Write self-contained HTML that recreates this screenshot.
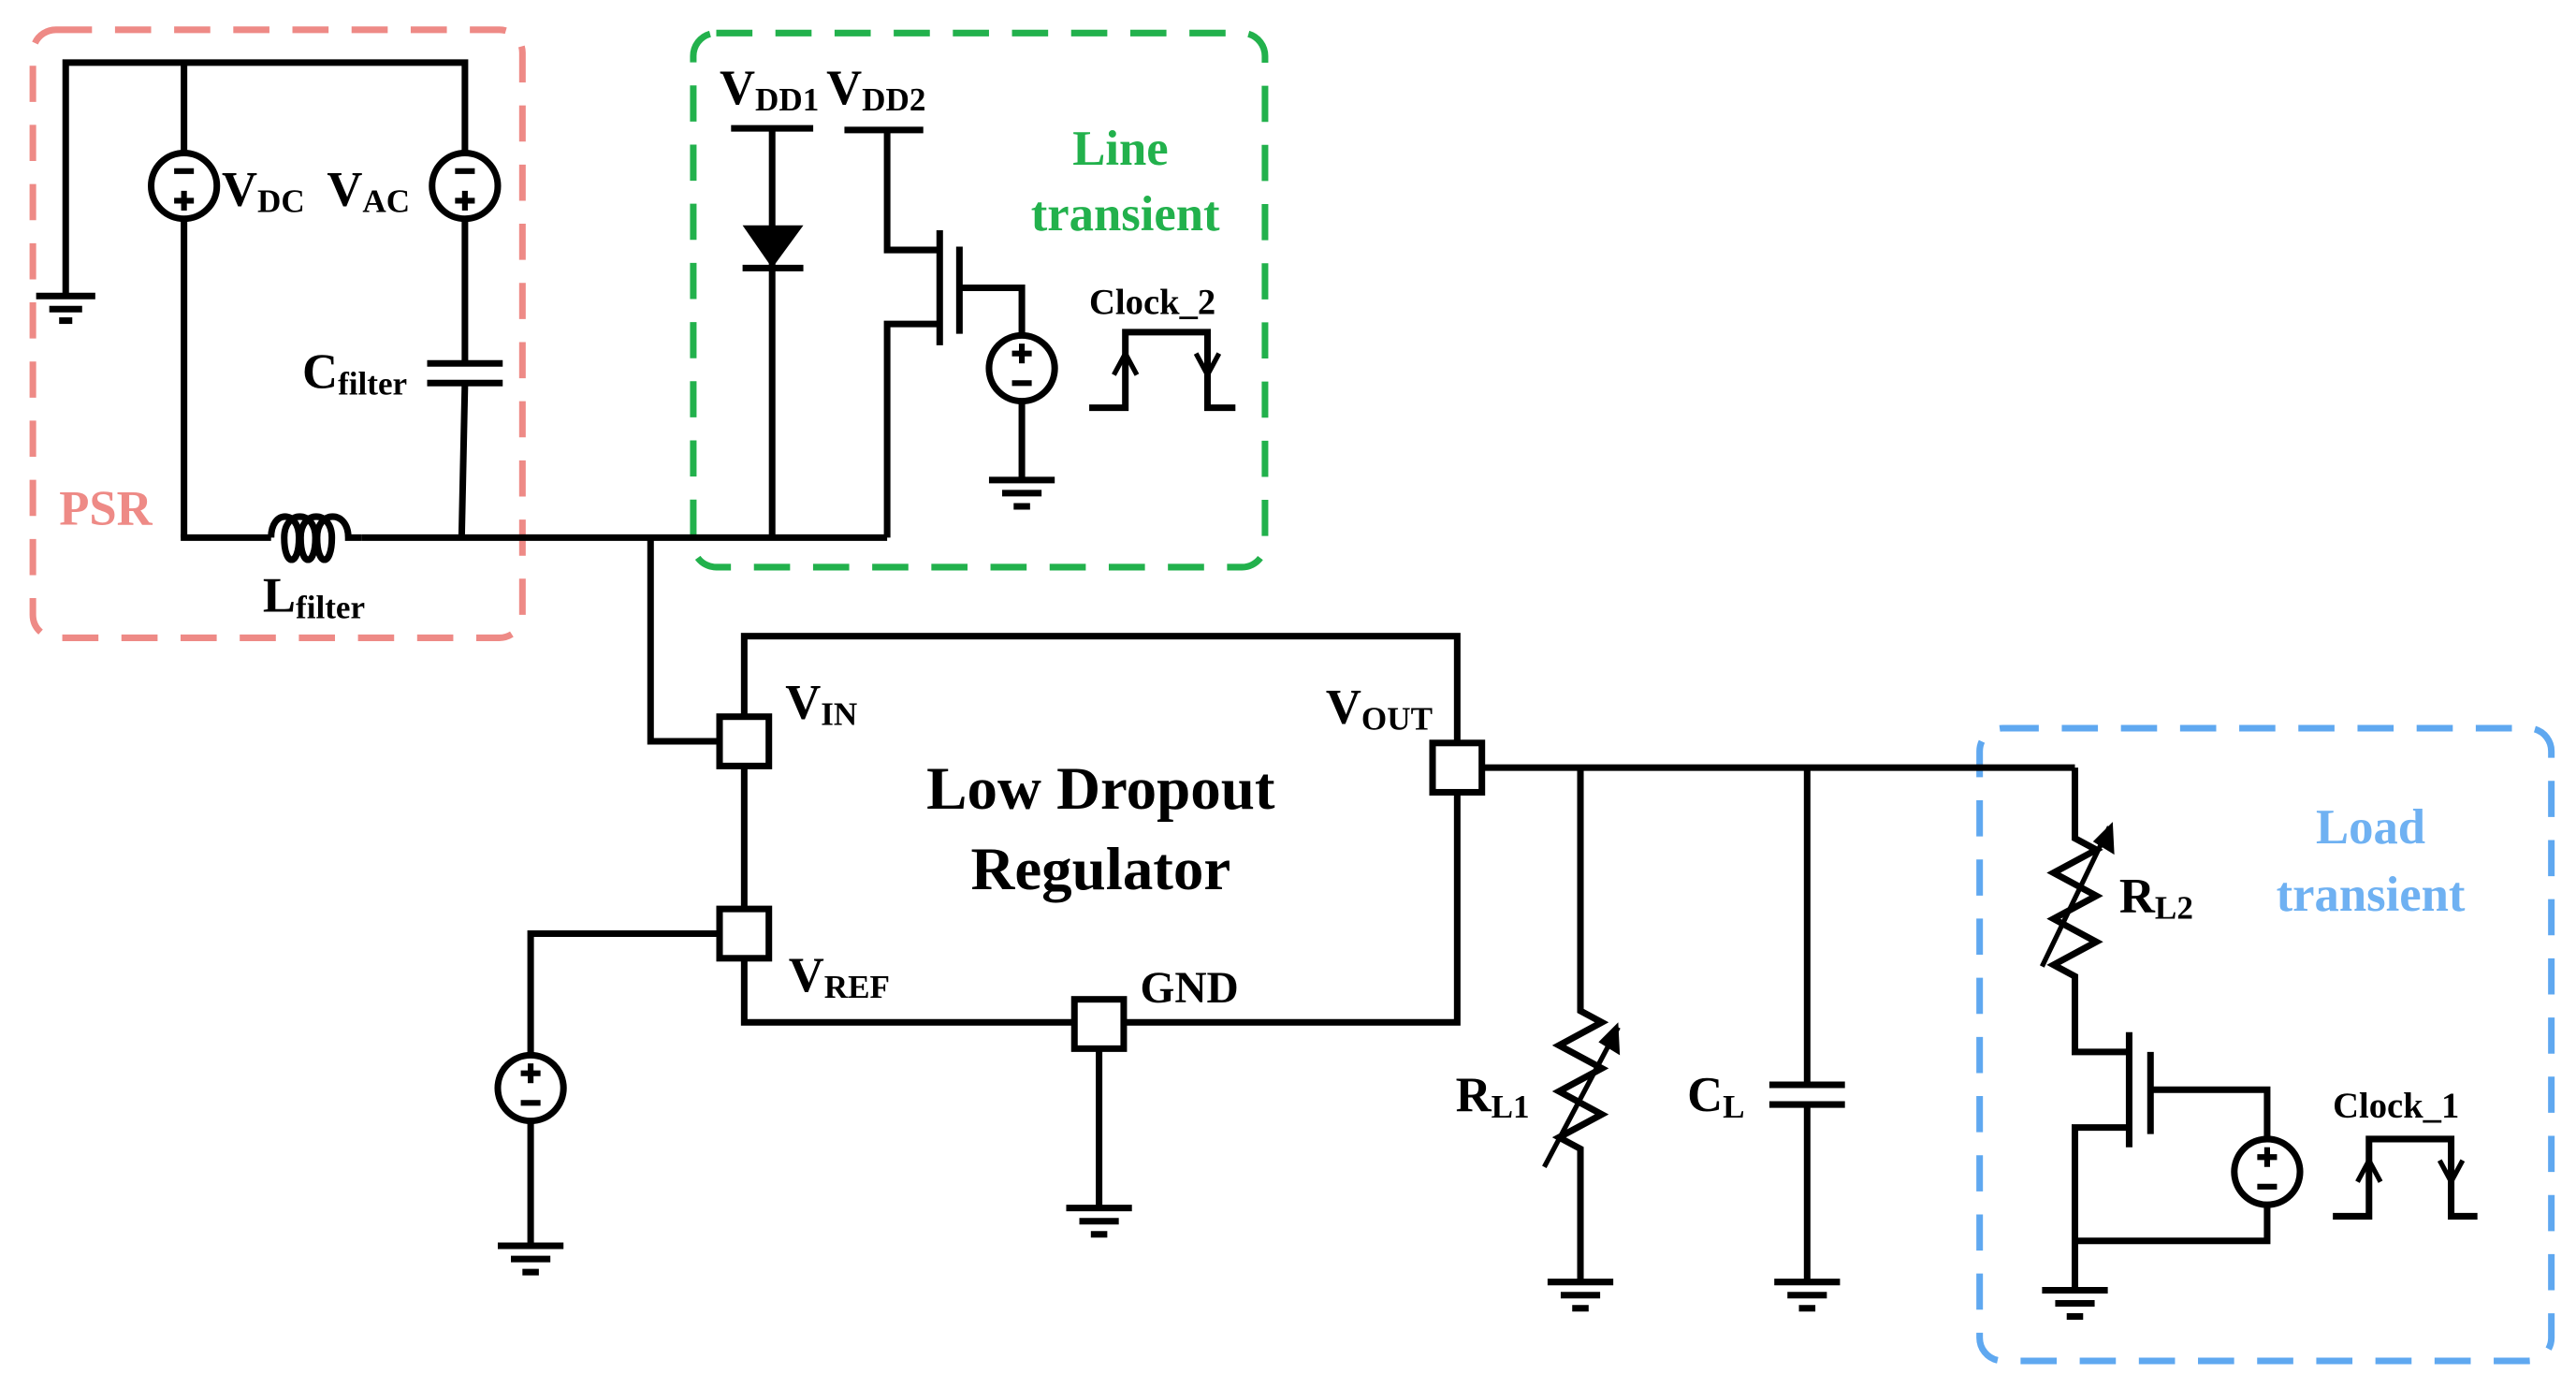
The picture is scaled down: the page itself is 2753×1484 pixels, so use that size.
<!DOCTYPE html>
<html><head><meta charset="utf-8"><style>html,body{margin:0;padding:0;background:#fff}svg{display:block}</style></head><body>
<svg width="2753" height="1484" viewBox="0 0 1568 845" xmlns="http://www.w3.org/2000/svg" font-family="Liberation Serif, serif" font-weight="bold">
<rect width="1568" height="845" fill="#fff"/>
<g fill="none" stroke-width="4" stroke-dasharray="22,14">
<rect x="20" y="18" width="298" height="370" rx="14" stroke="#ee8a86"/>
<rect x="422" y="20" width="348" height="325" rx="14" stroke="#22b14c"/>
<rect x="1205" y="443" width="348" height="385" rx="14" stroke="#5fa8f0"/>
</g>
<g stroke="#000" stroke-width="4" fill="none">
<!-- PSR -->
<polyline points="40,180 40,38 283,38 283,93"/>
<line x1="112" y1="38" x2="112" y2="93"/>
<line x1="112" y1="133" x2="112" y2="327"/>
<line x1="283" y1="133" x2="283" y2="221"/>
<line x1="283" y1="233" x2="281" y2="327"/>
<line x1="260" y1="221" x2="306" y2="221"/>
<line x1="260" y1="233" x2="306" y2="233"/>
<line x1="22" y1="180" x2="58" y2="180"/><line x1="30" y1="188" x2="50" y2="188"/><line x1="36" y1="195" x2="44" y2="195"/>
<circle cx="112" cy="113" r="20"/><circle cx="283" cy="113" r="20"/>
<polyline points="110,327 165,327"/>
<path d="M165,327 C165,310 182,310 182,327 C182,345 173,345 173,327 C173,310 192,310 192,327 C192,345 183,345 183,327 C183,310 202,310 202,327 C202,345 193,345 193,327 C193,310 212,310 212,327 L220,327"/>
<line x1="220" y1="327" x2="540" y2="327"/>
<!-- line transient -->
<line x1="445" y1="78" x2="495" y2="78"/>
<line x1="470" y1="78" x2="470" y2="327"/>
<line x1="452" y1="163" x2="489" y2="163"/>
<line x1="514" y1="79" x2="562" y2="79"/>
<polyline points="540,79 540,152 572,152"/>
<polyline points="572,197 540,197 540,327"/>
<line x1="572" y1="140" x2="572" y2="210"/>
<line x1="584" y1="150" x2="584" y2="203"/>
<polyline points="584,175 622,175 622,204"/>
<circle cx="622" cy="224" r="20"/>
<line x1="622" y1="244" x2="622" y2="292"/>
<line x1="602" y1="292" x2="642" y2="292"/><line x1="610" y1="300" x2="634" y2="300"/><line x1="617" y1="308" x2="627" y2="308"/>
<polyline points="663,248 685,248 685,202 735,202 735,248 752,248"/>
<!-- LDO -->
<polyline points="396,327 396,451 438,451"/>
<rect x="453" y="387" width="434" height="235"/>
<polyline points="438,568 323,568 323,642"/>
<circle cx="323" cy="662" r="20"/>
<line x1="323" y1="682" x2="323" y2="758"/>
<line x1="303" y1="758" x2="343" y2="758"/><line x1="311" y1="766" x2="335" y2="766"/><line x1="318" y1="774" x2="328" y2="774"/>
<line x1="669" y1="638" x2="669" y2="735"/>
<line x1="649" y1="735" x2="689" y2="735"/><line x1="657" y1="743" x2="681" y2="743"/><line x1="664" y1="751" x2="674" y2="751"/>
<line x1="902" y1="467" x2="1263" y2="467"/>
<!-- RL1 -->
<polyline points="962,467 962,615 975,622 949,636 975,650 949,664 975,678 949,692 962,699 962,780"/>
<line x1="942" y1="780" x2="982" y2="780"/><line x1="950" y1="788" x2="974" y2="788"/><line x1="957" y1="796" x2="967" y2="796"/>
<!-- CL -->
<line x1="1100" y1="467" x2="1100" y2="660"/>
<line x1="1077" y1="660" x2="1123" y2="660"/><line x1="1077" y1="672" x2="1123" y2="672"/>
<line x1="1100" y1="672" x2="1100" y2="780"/>
<line x1="1080" y1="780" x2="1120" y2="780"/><line x1="1088" y1="788" x2="1112" y2="788"/><line x1="1095" y1="796" x2="1105" y2="796"/>
<!-- RL2 -->
<polyline points="1263,467 1263,510 1276,517 1250,531 1276,545 1250,559 1276,573 1250,587 1263,594 1263,640 1296,640"/>
<line x1="1296" y1="628" x2="1296" y2="698"/>
<line x1="1309" y1="640" x2="1309" y2="690"/>
<polyline points="1309,663 1380,663 1380,693"/>
<circle cx="1380" cy="713" r="20"/>
<polyline points="1380,733 1380,755 1263,755"/>
<polyline points="1296,686 1263,686 1263,785"/>
<line x1="1243" y1="785" x2="1283" y2="785"/><line x1="1251" y1="793" x2="1275" y2="793"/><line x1="1258" y1="801" x2="1268" y2="801"/>
<polyline points="1420,740 1442,740 1442,693 1492,693 1492,740 1508,740"/>
</g>
<!-- pins -->
<g fill="#fff" stroke="#000" stroke-width="4">
<rect x="438" y="436" width="30" height="30"/>
<rect x="438" y="553" width="30" height="30"/>
<rect x="654" y="608" width="30" height="30"/>
<rect x="872" y="452" width="30" height="30"/>
</g>
<!-- arrows -->
<g stroke="#000" stroke-width="3" fill="none">
<line x1="940" y1="710" x2="985" y2="625"/>
<line x1="1243" y1="588" x2="1284" y2="503"/>
<polyline points="678,228 685,215 692,228"/><polyline points="728,215 735,228 742,215"/>
<polyline points="1435,719 1442,706 1449,719"/><polyline points="1485,706 1492,719 1499,706"/>
</g>
<polygon points="985,622 986,642 973,634" fill="#000"/>
<polygon points="1286,500 1287,520 1274,512" fill="#000"/>
<polygon points="452,137 489,137 470,163" fill="#000"/>
<!-- source signs -->
<g stroke="#000" stroke-width="3.5">
<line x1="106" y1="104" x2="118" y2="104"/><line x1="106" y1="122" x2="118" y2="122"/><line x1="112" y1="116" x2="112" y2="128"/>
<line x1="277" y1="104" x2="289" y2="104"/><line x1="277" y1="122" x2="289" y2="122"/><line x1="283" y1="116" x2="283" y2="128"/>
<line x1="616" y1="215" x2="628" y2="215"/><line x1="622" y1="209" x2="622" y2="221"/><line x1="616" y1="233" x2="628" y2="233"/>
<line x1="317" y1="653" x2="329" y2="653"/><line x1="323" y1="647" x2="323" y2="659"/><line x1="317" y1="671" x2="329" y2="671"/>
<line x1="1374" y1="704" x2="1386" y2="704"/><line x1="1380" y1="698" x2="1380" y2="710"/><line x1="1374" y1="722" x2="1386" y2="722"/>
</g>
<!-- text -->
<g fill="#000" font-size="30">
<text x="135" y="125">V<tspan font-size="20" dy="4">DC</tspan></text>
<text x="199" y="125">V<tspan font-size="20" dy="4">AC</tspan></text>
<text x="184" y="236">C<tspan font-size="20" dy="4">filter</tspan></text>
<text x="160" y="372">L<tspan font-size="20" dy="4">filter</tspan></text>
<text x="438" y="63">V<tspan font-size="20" dy="4">DD1</tspan></text>
<text x="503" y="63">V<tspan font-size="20" dy="4">DD2</tspan></text>
<text x="663" y="191" font-size="22">Clock_2</text>
<text x="1420" y="680" font-size="22">Clock_1</text>
<text x="478" y="437">V<tspan font-size="20" dy="4">IN</tspan></text>
<text x="807" y="440">V<tspan font-size="20" dy="4">OUT</tspan></text>
<text x="480" y="603">V<tspan font-size="20" dy="4">REF</tspan></text>
<text x="694" y="610" font-size="27">GND</text>
<text x="886" y="676">R<tspan font-size="20" dy="4">L1</tspan></text>
<text x="1027" y="676">C<tspan font-size="20" dy="4">L</tspan></text>
<text x="1290" y="555">R<tspan font-size="20" dy="4">L2</tspan></text>
<text x="670" y="492" font-size="37" text-anchor="middle">Low Dropout</text>
<text x="670" y="541" font-size="37" text-anchor="middle">Regulator</text>
</g>
<text x="36" y="319" font-size="30" fill="#ee8a86">PSR</text>
<g fill="#22b14c" font-size="30" text-anchor="middle"><text x="682" y="100">Line</text><text x="685" y="140">transient</text></g>
<g fill="#6fb1f2" font-size="30" text-anchor="middle"><text x="1443" y="513">Load</text><text x="1443" y="554">transient</text></g>
</svg>
</body></html>
